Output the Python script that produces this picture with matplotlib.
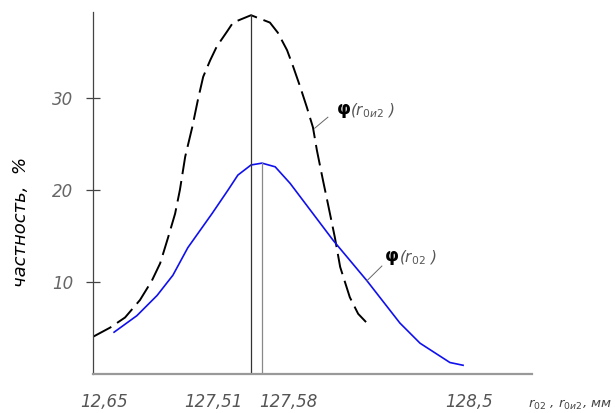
import matplotlib
matplotlib.use("Agg")
import matplotlib.pyplot as plt

plt.rcParams['font.family'] = ['DejaVu Sans Condensed', 'DejaVu Sans']
plt.rcParams['mathtext.fontset'] = 'dejavusans'
plt.rcParams['lines.scale_dashes'] = False

# dashed curve  phi(r_0и2)
x_dash = [0, 3.9, 7.3, 10.7, 13.4, 15.3, 17.1, 18.7, 19.8, 21.0, 22.6, 23.9, 25.1,
          26.7, 28.2, 30.5, 31.9, 36.0, 40.3, 42.1, 44.2, 45.6, 47.2, 48.7, 50.1,
          51.0, 52.4, 53.5, 55.1, 56.3, 58.5, 60.4, 62.2]
y_dash = [4.0, 5.0, 6.1, 8.0, 10.1, 12.0, 14.8, 17.4, 20.0, 23.6, 26.8, 29.8, 32.3,
          34.1, 35.6, 37.2, 38.2, 39.0, 38.2, 37.1, 35.2, 33.4, 31.2, 29.0, 26.8,
          24.3, 21.0, 18.5, 14.8, 11.6, 8.3, 6.5, 5.6]

# blue curve  phi(r_02)
x_blue = [4.8, 10.0, 14.6, 18.2, 21.6, 27.1, 30.8, 33.0, 36.0, 38.5, 41.5, 44.9,
          54.7, 62.4, 69.9, 74.5, 81.3, 84.3]
y_blue = [4.5, 6.3, 8.5, 10.7, 13.7, 17.4, 20.0, 21.6, 22.7, 22.9, 22.5, 20.7,
          14.5, 10.1, 5.5, 3.3, 1.2, 0.9]

yticks = [10, 20, 30]
xtick_pos = [2.5, 27.5, 44.4, 85.6]
xtick_labels = ['12,65', '127,51', '127,58', '128,5']

fig = plt.figure(figsize=(6.15, 4.13), dpi=100)
ax = fig.add_axes([93 / 615, 39 / 413, 439 / 615, 362 / 413])

ax.plot(x_dash, y_dash, color='black', lw=1.4, dashes=(15, 5))
ax.plot(x_blue, y_blue, color='#1010ee', lw=1.2)

# peak lines
i_d = y_dash.index(max(y_dash))
i_b = y_blue.index(max(y_blue))
ax.plot([x_dash[i_d]] * 2, [0, y_dash[i_d]], color='#333333', lw=0.9)
ax.plot([x_blue[i_b]] * 2, [0, y_blue[i_b]], color='#888888', lw=0.9)

ax.set_xlim(0, 100)
ax.set_ylim(-0.05, 39.35)
for s in ['top', 'right']:
    ax.spines[s].set_visible(False)
ax.spines['left'].set_color('#444444')
ax.spines['left'].set_linewidth(0.9)
ax.spines['bottom'].set_color('#999999')
ax.spines['bottom'].set_linewidth(1.6)

ax.set_yticks(yticks)
ax.set_yticklabels([str(v) for v in yticks], fontstyle='italic', color='#666666', fontsize=12)
ax.tick_params(axis='y', direction='inout', length=10, width=0.9, color='#444444', pad=9)
ax.set_xticks([])

for xp, lab in zip(xtick_pos, xtick_labels):
    ax.text(xp, -3.1, lab, ha='center', va='center', fontstyle='italic',
            color='#555555', fontsize=12)

ax.set_ylabel('частность,  %', fontstyle='italic', fontsize=13)
ax.yaxis.set_label_coords(-0.143, 0.42)

ax.text(99.2, -3.4, r'r$_{02}$ , r$_{0и2}$, мм', ha='left', va='center',
        fontstyle='italic', color='#444444', fontsize=9.5, clip_on=False)

# curve labels with leader lines
ax.plot([50.5, 53.5], [26.7, 27.9], color='#666666', lw=0.7)
ax.text(55.3, 28.6, r'$\boldsymbol{\varphi}$', fontsize=13, va='center')
ax.text(58.6, 28.6, '(r$_{0и2}$ )', fontsize=11, va='center', fontstyle='italic', color='#555555')
ax.plot([62.4, 65.8], [10.1, 11.7], color='#666666', lw=0.7)
ax.text(66.3, 12.6, r'$\boldsymbol{\varphi}$', fontsize=13, va='center')
ax.text(69.6, 12.6, '(r$_{02}$ )', fontsize=11, va='center', fontstyle='italic', color='#555555')

fig.savefig('out.png', dpi=100)
